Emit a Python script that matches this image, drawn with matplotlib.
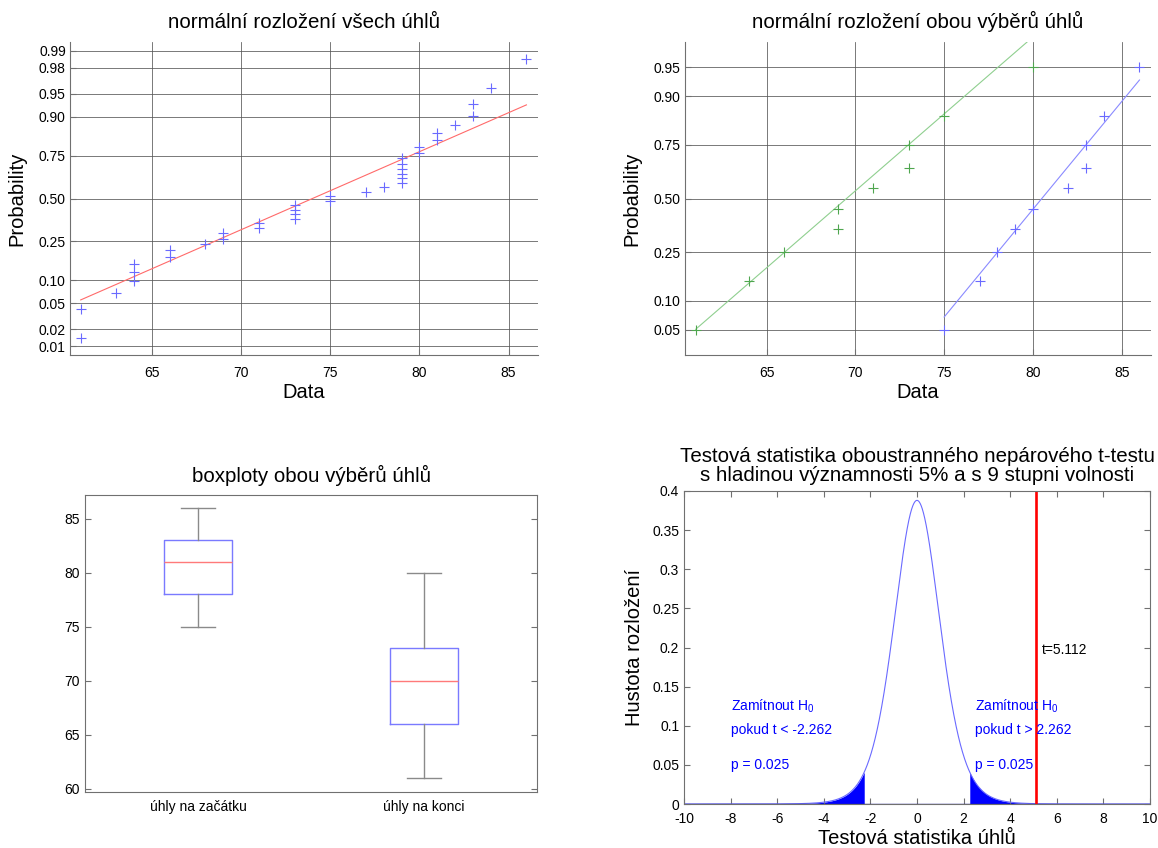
import math
from statistics import NormalDist
import numpy as np
import matplotlib
matplotlib.use('Agg')
import matplotlib.pyplot as plt

plt.rcParams['font.family'] = ['Liberation Sans', 'DejaVu Sans']
plt.rcParams['axes.unicode_minus'] = False
plt.rcParams['mathtext.default'] = 'regular'

# ---------------- data ----------------
all_angles = [61, 61, 63, 64, 64, 64, 66, 66, 68, 69, 69, 71, 71, 73, 73, 73, 73,
              75, 75, 77, 78, 79, 79, 79, 79, 79, 79, 80, 80, 81, 81, 82, 83, 83,
              84, 86]
start_angles = [75, 77, 78, 79, 80, 82, 83, 83, 84, 86]   # úhly na začátku
end_angles = [61, 64, 66, 69, 69, 71, 73, 73, 75, 80]     # úhly na konci
box_labels = ['úhly na začátku', 'úhly na konci']
prob_ticks_all = [0.01, 0.02, 0.05, 0.10, 0.25, 0.50, 0.75, 0.90, 0.95, 0.98, 0.99]
prob_ticks_two = [0.05, 0.10, 0.25, 0.50, 0.75, 0.90, 0.95]
data_ticks = [65, 70, 75, 80, 85]
box_yticks = [60, 65, 70, 75, 80, 85]
t_xticks = [-10, -8, -6, -4, -2, 0, 2, 4, 6, 8, 10]
t_yticks = [0, 0.05, 0.1, 0.15, 0.2, 0.25, 0.3, 0.35, 0.4]
df_t = 9
t_crit = 2.262
t_stat = 5.112
p_tail = 0.025

ND = NormalDist()
W, H = 1158, 848
fig = plt.figure(figsize=(W / 100, H / 100), dpi=100)


def ax_px(l, t, r, b):
    return fig.add_axes([l / W, 1 - b / H, (r - l) / W, (b - t) / H])


SPINE = '#707070'
GRID = '#555555'
TITLE_FS = 14.8
LABEL_FS = 14.5
TICK_FS = 10


def probplot(ax, data, mcolor, lcolor):
    d = np.sort(np.asarray(data, float))
    n = len(d)
    p = (np.arange(1, n + 1) - 0.5) / n
    z = np.array([ND.inv_cdf(v) for v in p])
    q1, q3 = np.percentile(d, [25, 75], method='hazen')
    z1, z3 = ND.inv_cdf(0.25), ND.inv_cdf(0.75)
    slope = (z3 - z1) / (q3 - q1)
    xs = np.linspace(d.min(), d.max(), 50)
    ax.plot(xs, z1 + slope * (xs - q1), color=lcolor, lw=0.8, zorder=3)
    ax.plot(d, z, '+', color=mcolor, ms=6.5, mew=0.8, zorder=4)
    return n


def style_prob(ax, n, pticks, title):
    zl = ND.inv_cdf(0.25 / n)
    ax.set_ylim(zl, -zl)
    ax.set_xlim(60.4, 86.65)
    ax.set_yticks([ND.inv_cdf(p) for p in pticks])
    ax.set_yticklabels(['%.2f' % p for p in pticks])
    ax.set_xticks(data_ticks)
    ax.grid(True, color=GRID, lw=0.55)
    ax.set_axisbelow(True)
    for s in ['top', 'right']:
        ax.spines[s].set_visible(False)
    for s in ['left', 'bottom']:
        ax.spines[s].set_color(SPINE)
    ax.tick_params(direction='in', length=4, color=SPINE, labelsize=TICK_FS)
    ax.tick_params(axis='y', pad=3)
    ax.tick_params(axis='x', pad=8)
    ax.set_xlabel('Data', fontsize=LABEL_FS, labelpad=2)
    ax.set_ylabel('Probability', fontsize=LABEL_FS, labelpad=9)
    ax.set_title(title, fontsize=TITLE_FS, pad=10)


# ---------------- top-left ----------------
ax1 = ax_px(70, 42, 538, 355)
n_all = probplot(ax1, all_angles, '#6a6aff', '#ff6a6a')
style_prob(ax1, n_all, prob_ticks_all, 'normální rozložení všech úhlů')

# ---------------- top-right ----------------
ax2 = ax_px(685, 42, 1151, 355)
n_s = probplot(ax2, start_angles, '#6a6aff', '#8a8aff')
n_e = probplot(ax2, end_angles, '#4fa64f', '#8fcf8f')
style_prob(ax2, max(n_s, n_e), prob_ticks_two, 'normální rozložení obou výběrů úhlů')

# ---------------- bottom-left: boxplots ----------------
ax3 = ax_px(85, 495, 537, 792)
stats = []
for d, lbl in zip([start_angles, end_angles], box_labels):
    d = np.asarray(d, float)
    q1, med, q3 = np.percentile(d, [25, 50, 75], method='hazen')
    iqr = q3 - q1
    lo = d[d >= q1 - 1.5 * iqr].min()
    hi = d[d <= q3 + 1.5 * iqr].max()
    stats.append(dict(med=med, q1=q1, q3=q3, whislo=lo, whishi=hi, fliers=[], label=lbl))
ax3.bxp(stats, positions=[1, 2], widths=0.3, capwidths=0.15, showfliers=False,
        boxprops=dict(color='#7a7aff', lw=1.0),
        medianprops=dict(color='#ff7a7a', lw=1.0),
        whiskerprops=dict(color='#8a8a8a', lw=1.0),
        capprops=dict(color='#8a8a8a', lw=1.0))
ax3.set_xlim(0.5, 2.5)
ax3.set_ylim(59.7, 87.2)
ax3.set_yticks(box_yticks)
ax3.tick_params(axis='y', direction='in', length=4, color=SPINE, labelsize=TICK_FS,
                left=True, right=True, pad=4)
ax3.tick_params(axis='x', length=0, labelsize=TICK_FS, pad=6)
for s in ax3.spines.values():
    s.set_color(SPINE)
ax3.set_title('boxploty obou výběrů úhlů', fontsize=TITLE_FS, pad=9)

# ---------------- bottom-right: t distribution ----------------
ax4 = ax_px(684, 491, 1150, 804)
x = np.linspace(-10, 10, 4001)
c = math.gamma((df_t + 1) / 2) / (math.sqrt(df_t * math.pi) * math.gamma(df_t / 2))
pdf = c * (1 + x ** 2 / df_t) ** (-(df_t + 1) / 2)
ax4.fill_between(x, 0, pdf, where=x <= -t_crit, color='#0000ff', lw=0)
ax4.fill_between(x, 0, pdf, where=x >= t_crit, color='#0000ff', lw=0)
ax4.plot(x, pdf, color='#6a6aff', lw=0.8)
ax4.axhline(0, color='#2020a0', lw=1.0)
ax4.axvline(t_stat, color='#ff0000', lw=1.9)
ax4.set_xlim(-10, 10)
ax4.set_ylim(0, 0.4)
ax4.set_xticks(t_xticks)
ax4.set_yticks(t_yticks)
ax4.set_yticklabels(['%g' % v for v in t_yticks])
ax4.tick_params(direction='in', length=4, color=SPINE, labelsize=TICK_FS,
                top=True, right=True)
ax4.tick_params(axis='x', pad=6)
for s in ax4.spines.values():
    s.set_color(SPINE)
ax4.text(-8, 0.125, 'Zamítnout H$_0$', color='#0000ff', fontsize=10, va='center')
ax4.text(-8, 0.095, 'pokud t < -%.3f' % t_crit, color='#0000ff', fontsize=10, va='center')
ax4.text(-8, 0.05, 'p = %.3f' % p_tail, color='#0000ff', fontsize=10, va='center')
ax4.text(2.5, 0.125, 'Zamítnout H$_0$', color='#0000ff', fontsize=10, va='center')
ax4.text(2.5, 0.095, 'pokud t > %.3f' % t_crit, color='#0000ff', fontsize=10, va='center')
ax4.text(2.5, 0.05, 'p = %.3f' % p_tail, color='#0000ff', fontsize=10, va='center')
ax4.text(5.35, 0.197, 't=%.3f' % t_stat, color='black', fontsize=10, va='center')
ax4.set_xlabel('Testová statistika úhlů', fontsize=LABEL_FS, labelpad=2)
ax4.set_ylabel('Hustota rozložení', fontsize=LABEL_FS, labelpad=6)
title4 = ('Testová statistika oboustranného nepárového t-testu\n'
          's hladinou významnosti 5% a s ' + str(df_t) + ' stupni volnosti')
ax4.set_title(title4, fontsize=TITLE_FS, pad=7, linespacing=1.0)

fig.savefig('out.png', dpi=100)
